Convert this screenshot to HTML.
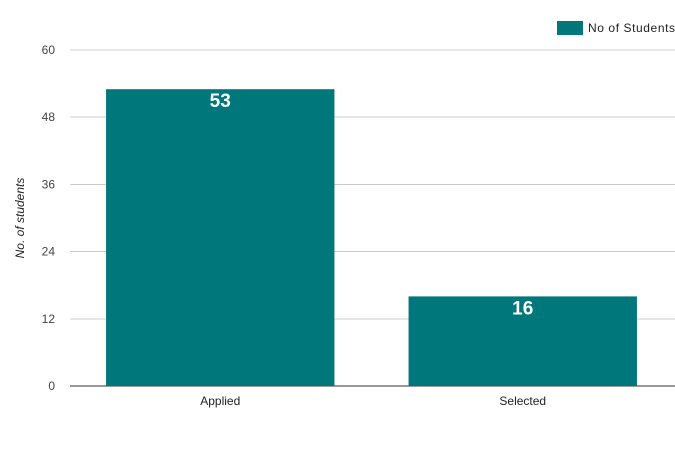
<!DOCTYPE html>
<html><head><meta charset="utf-8"><style>
html,body{margin:0;padding:0;background:#fff;}
svg{display:block;font-family:"Liberation Sans",Arial,sans-serif;}
</style></head><body>
<svg id="chart" width="675" height="450"></svg>
<script>
const categories = ["Applied", "Selected"];
const seriesValues = [53, 16];
const tickLabels = [0, 12, 24, 36, 48, 60];
const seriesName = "No of Students";

const svg = document.getElementById('chart');
const NS = "http://www.w3.org/2000/svg";
const plotL = 69, plotR = 674, plotT = 50, plotB = 386, yMax = 60;
function yScale(v){ return plotB - (v / yMax) * (plotB - plotT); }
const band = (plotR - plotL) / categories.length;
function xBand(i){ return plotL + i * band; }
function mk(tag, attrs, text){
  const e = document.createElementNS(NS, tag);
  for (const k in attrs) e.setAttribute(k, attrs[k]);
  if (text !== undefined) e.textContent = text;
  svg.appendChild(e);
  return e;
}

tickLabels.forEach(t => {
  const y = yScale(t);
  const g = mk('line', {x1: 70, x2: 675, y1: y, y2: y, stroke: t === 0 ? '#333' : '#ccc', 'stroke-width': 1, 'shape-rendering': 'crispEdges'});
  
  
  const l = mk('text', {x: 55, y: y + 4, 'text-anchor': 'end', 'font-size': 12, fill: '#444'}, String(t));
  
  
});

categories.forEach((c, i) => {
  const bw = band * 0.755;
  const x = xBand(i) + (band - bw) / 2;
  const y = yScale(seriesValues[i]);
  const r = mk('rect', {x: x, y: y, width: bw, height: plotB - y, fill: '#00777b'});
  
  
  const v = mk('text', {x: x + bw / 2, y: y + 18, 'text-anchor': 'middle', 'font-size': 19, 'font-weight': 'bold', fill: '#fff'}, String(seriesValues[i]));
  
  
  const xl = mk('text', {x: x + bw / 2, y: 405, 'text-anchor': 'middle', 'font-size': 12, fill: '#222'}, c);
  
  
});

const yt = mk('text', {x: 0, y: 0, transform: 'translate(24,218) rotate(-90)', 'text-anchor': 'middle', 'font-size': 12, 'font-style': 'italic', fill: '#222'}, 'No. of students');



const lr = mk('rect', {x: 557, y: 21, width: 26, height: 14, fill: '#00777b'});


const lt = mk('text', {x: 588, y: 32, 'font-size': 12, fill: '#222', textLength: 87}, seriesName);


</script>
</body></html>
